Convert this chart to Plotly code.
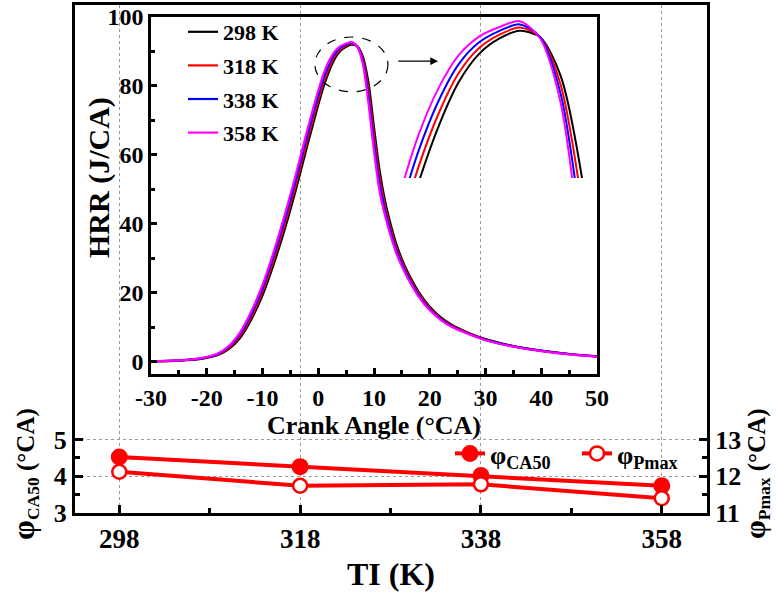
import plotly.graph_objects as go

# ---------------- data ----------------
temps = ["298 K", "318 K", "338 K", "358 K"]
colors = ["#000000", "#ff0000", "#0000ff", "#ff00ff"]

crank_angle = [-30, -25, -21, -18, -16, -14, -12, -10, -8, -6, -4, -2, -1, 0, 1, 2, 3, 4, 5, 6,
               7, 8, 9, 10, 11, 12, 13, 14, 15, 16, 18, 20, 22, 24, 27, 30, 35, 40, 45, 50]

hrr_298 = [0.2, 0.4, 0.9, 2.0, 3.8, 7.0, 12.3, 19.3, 28.3, 38.5, 50.0, 62.5, 68.5, 74.5, 80.0, 84.5, 88.0, 90.2, 91.4, 92.0,
           91.5, 88.5, 81.0, 68.0, 55.5, 46.5, 39.8, 34.2, 29.8, 26.2, 20.3, 16.0, 12.9, 10.7, 8.4, 6.6, 4.6, 3.3, 2.3, 1.6]
hrr_318 = [0.2, 0.4, 1.0, 2.15, 4.1, 7.55, 13.1, 20.3, 29.5, 39.9, 51.5, 64.0, 70.0, 75.9, 81.25, 85.5, 88.7, 90.65, 91.7, 92.25,
           91.5, 87.8, 79.0, 65.7, 53.5, 45.1, 38.7, 33.3, 29.1, 25.6, 19.85, 15.65, 12.65, 10.5, 8.3, 6.5, 4.55, 3.25, 2.3, 1.6]
hrr_338 = [0.2, 0.45, 1.05, 2.3, 4.4, 8.1, 13.9, 21.3, 30.7, 41.3, 53.0, 65.5, 71.5, 77.3, 82.5, 86.5, 89.4, 91.1, 92.0, 92.5,
           91.5, 87.1, 77.0, 63.4, 51.5, 43.7, 37.6, 32.4, 28.4, 25.0, 19.4, 15.3, 12.4, 10.3, 8.15, 6.4, 4.5, 3.2, 2.25, 1.6]
hrr_358 = [0.2, 0.45, 1.1, 2.45, 4.7, 8.65, 14.7, 22.3, 31.9, 42.7, 54.5, 67.0, 73.0, 78.7, 83.75, 87.5, 90.1, 91.55, 92.3, 92.75,
           91.4, 86.4, 75.0, 61.1, 49.5, 42.3, 36.5, 31.5, 27.7, 24.4, 18.95, 14.95, 12.15, 10.1, 8.0, 6.3, 4.45, 3.15, 2.2, 1.55]
hrr_series = [hrr_298, hrr_318, hrr_338, hrr_358]

ti_k = [298, 318, 338, 358]
phi_ca50 = [4.52, 4.26, 4.02, 3.74]
phi_pmax = [12.12, 11.74, 11.78, 11.40]

ca_ticks = [-30, -20, -10, 0, 10, 20, 30, 40, 50]
ca_ticktext = ["-30", "-20", "-10", "0", "10", "20", "30", "40", "50"]
hrr_ticks = [0, 20, 40, 60, 80, 100]

# ---------------- layout helpers ----------------
W, H = 777, 592
def px_x(p):
    return p / W
def px_y(p):
    return 1 - p / H

FONT = "Liberation Serif, Times New Roman, serif"
BOLD = dict(family=FONT, color="black", weight="bold")

fig = go.Figure()

# main HRR curves (inner plot)
for name, col, vals in zip(temps, colors, hrr_series):
    fig.add_trace(go.Scatter(
        x=crank_angle, y=vals, mode="lines", name=name,
        line=dict(color=col, width=2.2, shape="spline", smoothing=0.8),
        xaxis="x2", yaxis="y2", legend="legend", legendgroup=name))

# magnified peak inset
for name, col, vals in zip(temps, colors, hrr_series):
    fig.add_trace(go.Scatter(
        x=crank_angle, y=vals, mode="lines", showlegend=False,
        line=dict(color=col, width=2, shape="spline", smoothing=0.8),
        xaxis="x3", yaxis="y3", hoverinfo="skip"))

# bottom panel
fig.add_trace(go.Scatter(
    x=ti_k, y=phi_ca50, mode="lines+markers", name="φ<sub>CA50</sub>",
    line=dict(color="#ff0000", width=4),
    marker=dict(color="#ff0000", size=15, symbol="circle",
                line=dict(color="#ff0000", width=2)),
    xaxis="x", yaxis="y", legend="legend2"))
fig.add_trace(go.Scatter(
    x=ti_k, y=phi_pmax, mode="lines+markers", name="φ<sub>Pmax</sub>",
    line=dict(color="#ff0000", width=4),
    marker=dict(color="white", size=14, symbol="circle",
                line=dict(color="#ff0000", width=2.5)),
    xaxis="x", yaxis="y4", legend="legend2"))

grid_col = "#9a9a9a"
y_scale = 36.8  # px per unit on the bottom-panel axes
y_top_left = 3 + (513 - 5) / y_scale
y_top_right = 11 + (513 - 5) / y_scale

fig.update_layout(
    template="none",
    width=W, height=H, margin=dict(l=0, r=0, t=0, b=0, autoexpand=False),
    paper_bgcolor="white", plot_bgcolor="rgba(0,0,0,0)",
    font=dict(family=FONT, color="black"),
    xaxis=dict(
        domain=[px_x(75), px_x(707)], anchor="y", range=[293.1, 363], automargin=False,
        tickvals=ti_k, ticks="inside", ticklen=8, tickwidth=3, tickcolor="black",
        minor=dict(tickvals=[308, 328, 348], ticks="inside", ticklen=5, tickwidth=3, tickcolor="black"),
        showline=True, linewidth=3, linecolor="black", mirror=True,
        showgrid=True, gridcolor=grid_col, griddash="3px,3px", gridwidth=1, zeroline=False,
        tickfont=dict(size=27, **BOLD),
        title=dict(text="TI (K)", font=dict(size=32, **BOLD), standoff=14)),
    yaxis=dict(
        domain=[px_y(513), px_y(5)], anchor="x", range=[3, y_top_left], automargin=False,
        tickvals=[3, 4, 5], ticks="inside", ticklen=8, tickwidth=3, tickcolor="black",
        minor=dict(tickvals=[3.5, 4.5], ticks="inside", ticklen=5, tickwidth=3, tickcolor="black"),
        showline=True, linewidth=3, linecolor="black",
        showgrid=True, gridcolor=grid_col, griddash="3px,3px", gridwidth=1, zeroline=False,
        tickfont=dict(size=26, **BOLD)),
    yaxis4=dict(
        overlaying="y", side="right", anchor="x", range=[11, y_top_right], automargin=False,
        tickvals=[11, 12, 13], ticks="inside", ticklen=8, tickwidth=3, tickcolor="black",
        minor=dict(tickvals=[11.5, 12.5], ticks="inside", ticklen=5, tickwidth=3, tickcolor="black"),
        showline=True, linewidth=3, linecolor="black",
        showgrid=False, zeroline=False,
        tickfont=dict(size=26, **BOLD)),
    xaxis2=dict(
        domain=[px_x(151), px_x(597)], anchor="y2", range=[-30, 50], automargin=False,
        tickvals=ca_ticks, ticktext=ca_ticktext, ticks="inside", ticklen=6, tickwidth=2.5, tickcolor="black",
        minor=dict(tickvals=[-25, -15, -5, 5, 15, 25, 35, 45], ticks="inside", ticklen=4, tickwidth=2.5, tickcolor="black"),
        showline=True, linewidth=2.5, linecolor="black", mirror=True,
        showgrid=False, zeroline=False,
        tickfont=dict(size=24, **BOLD),
        title=dict(text="Crank Angle (°CA)", font=dict(size=26, **BOLD), standoff=4)),
    yaxis2=dict(
        domain=[px_y(374), px_y(17)], anchor="x2", range=[-3.5, 100], automargin=False,
        tickvals=hrr_ticks, ticks="inside", ticklen=6, tickwidth=2.5, tickcolor="black",
        minor=dict(tickvals=[10, 30, 50, 70, 90], ticks="inside", ticklen=4, tickwidth=2.5, tickcolor="black"),
        showline=True, linewidth=2.5, linecolor="black", mirror=True,
        showgrid=False, zeroline=False,
        tickfont=dict(size=24, **BOLD)),
    xaxis3=dict(
        domain=[px_x(395), px_x(595)], anchor="y3", range=[-0.13, 9.69], automargin=False,
        visible=False, showgrid=False, zeroline=False),
    yaxis3=dict(
        domain=[px_y(178), px_y(18)], anchor="x3", range=[80.5, 93], automargin=False,
        visible=False, showgrid=False, zeroline=False),
    legend=dict(
        x=px_x(183), y=px_y(11), xanchor="left", yanchor="top",
        bgcolor="rgba(0,0,0,0)", font=dict(size=22, **BOLD), orientation="v",
        tracegroupgap=2),
    legend2=dict(
        x=px_x(450), y=px_y(430), xanchor="left", yanchor="top",
        bgcolor="rgba(0,0,0,0)", font=dict(size=26, **BOLD),
        orientation="h", entrywidth=82, entrywidthmode="pixels"),
    shapes=[dict(type="circle", xref="x2", yref="y2", x0=-0.6, x1=12.5, y0=78.3, y1=94.2,
                 line=dict(color="black", width=1.2, dash="dash"))],
    annotations=[
        dict(xref="x2", yref="y2", axref="x2", ayref="y2", x=21.5, y=87.2, ax=14.1, ay=87.2,
             text="", showarrow=True, arrowhead=2, arrowsize=1.2, arrowwidth=1.3, arrowcolor="black"),
        dict(xref="paper", yref="paper", x=px_x(99), y=px_y(178), text="HRR (J/CA)", textangle=-90,
             showarrow=False, font=dict(size=30, **BOLD), xanchor="center", yanchor="middle"),
        dict(xref="paper", yref="paper", x=px_x(24), y=px_y(474),
             text='<span style="font-size:32px">φ</span><sub>CA50</sub> (°CA)', textangle=-90,
             showarrow=False, font=dict(size=25, **BOLD), xanchor="center", yanchor="middle"),
        dict(xref="paper", yref="paper", x=px_x(756), y=px_y(474),
             text='<span style="font-size:30px">φ</span><sub>Pmax</sub> (°CA)', textangle=-90,
             showarrow=False, font=dict(size=25, **BOLD), xanchor="center", yanchor="middle"),
    ],
)

fig.write_html("out.html")
